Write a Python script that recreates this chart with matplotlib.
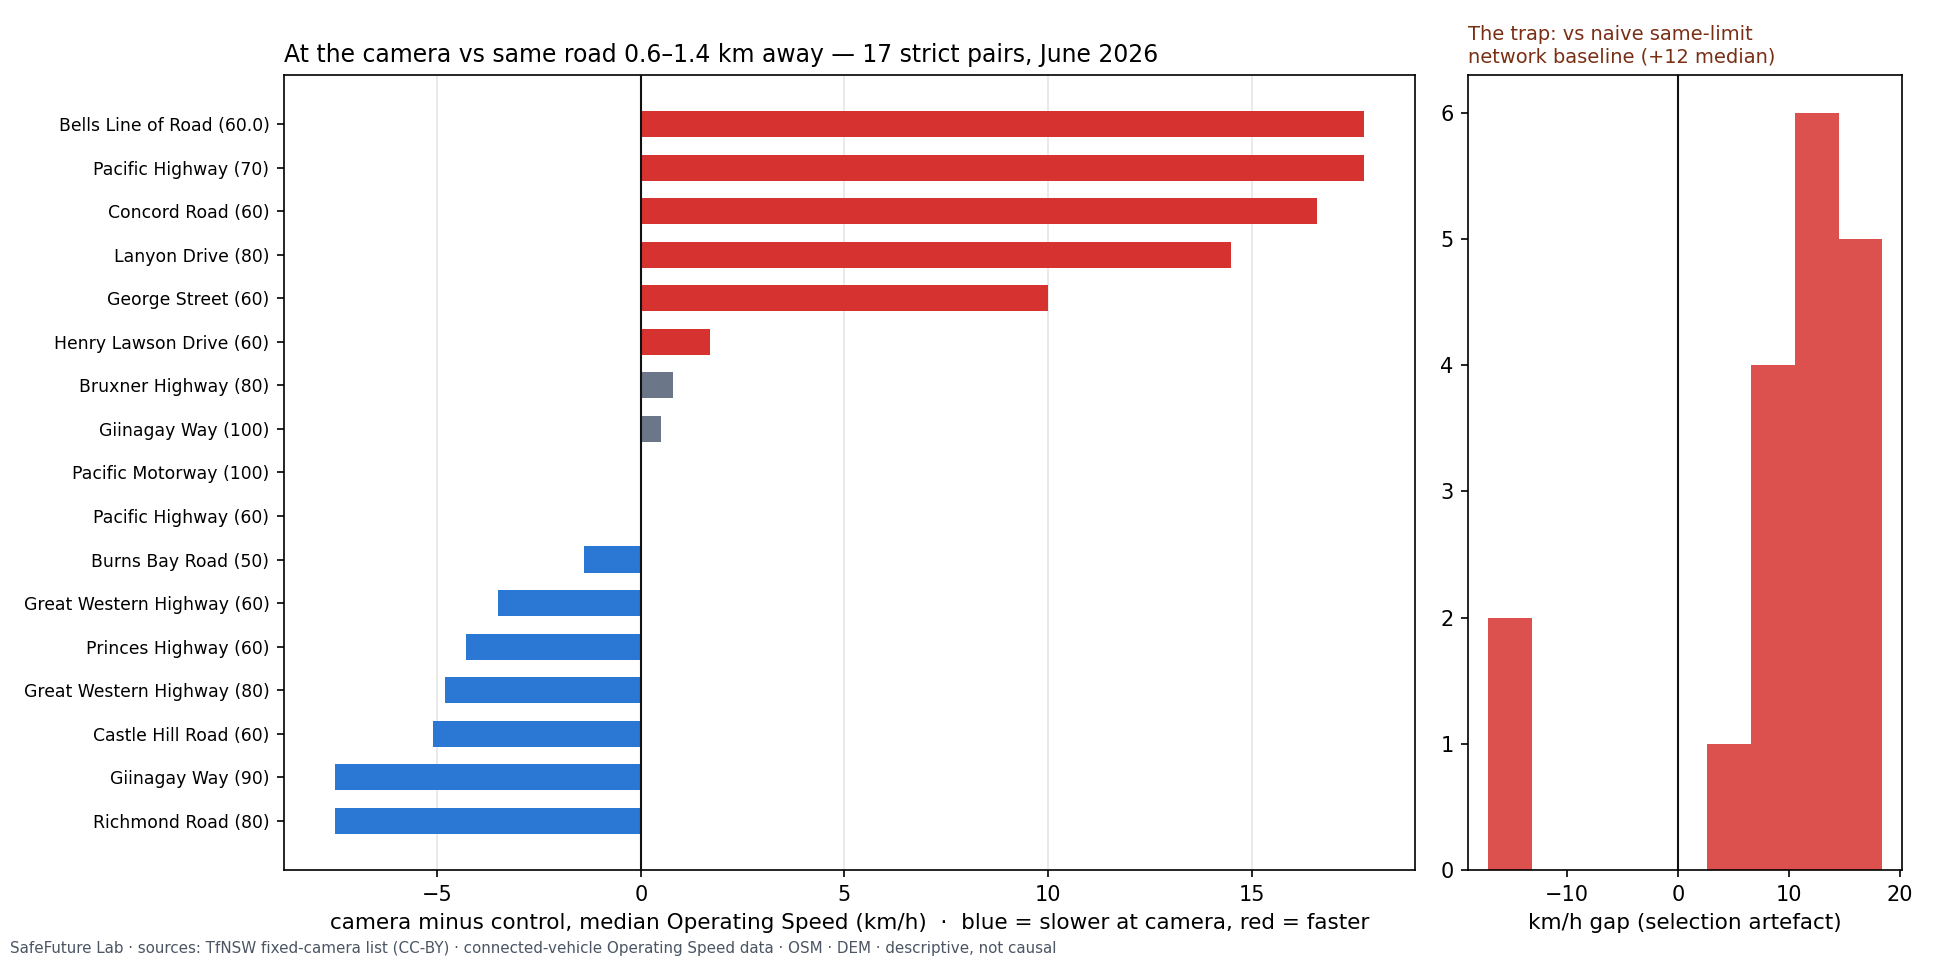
import matplotlib
matplotlib.use("Agg")
import matplotlib.pyplot as plt

# strict camera/control pairs, bottom to top as drawn
roads = ["Richmond Road (80)", "Giinagay Way (90)", "Castle Hill Road (60)",
         "Great Western Highway (80)", "Princes Highway (60)",
         "Great Western Highway (60)", "Burns Bay Road (50)",
         "Pacific Highway (60)", "Pacific Motorway (100)", "Giinagay Way (100)",
         "Bruxner Highway (80)", "Henry Lawson Drive (60)", "George Street (60)",
         "Lanyon Drive (80)", "Concord Road (60)", "Pacific Highway (70)",
         "Bells Line of Road (60.0)"]
diffs = [-7.5, -7.5, -5.1, -4.8, -4.3, -3.5, -1.4, 0.0, 0.0, 0.5, 0.8, 1.7,
         10.0, 14.5, 16.6, 17.75, 17.75]

# gap vs naive same-limit network baseline
naive_gap = [-17.1, -13.8, 4.0, 7.5, 8.6, 9.4, 10.2, 11.0, 11.8, 12.2,
             12.9, 13.5, 14.1, 15.0, 15.8, 16.5, 17.3, 18.4]

RED = "#d6322f"
BLUE = "#2a77d4"
GREY = "#6b7689"


def bar_colour(v):
    if v >= 1.5:
        return RED
    if v <= -1.0:
        return BLUE
    return GREY


fig = plt.figure(figsize=(1937 / 150, 961 / 150), dpi=150)
ax = fig.add_axes([0.1466, 0.0947, 0.5839, 0.8273])
ax2 = fig.add_axes([0.7579, 0.0947, 0.2241, 0.8273])

ax.barh(range(len(roads)), diffs, height=0.6, color=[bar_colour(v) for v in diffs], zorder=2)
ax.set_yticks(range(len(roads)))
ax.set_yticklabels(roads, fontsize=8.25)
ax.axvline(0, color="#111111", lw=1.0, zorder=3)
ax.grid(axis="x", color="#e6e6e6", lw=0.8, zorder=0)
ax.set_axisbelow(True)
ax.tick_params(axis="x", labelsize=10)
ax.set_xlabel("camera minus control, median Operating Speed (km/h)  \u00b7  blue = slower at camera, red = faster",
              fontsize=10.3)
ax.set_title("At the camera vs same road 0.6\u20131.4 km away \u2014 17 strict pairs, June 2026",
             loc="left", fontsize=11.3)

ax2.hist(naive_gap, bins=9, color=RED, alpha=0.85)
ax2.axvline(0, color="#111111", lw=1.0)
ax2.tick_params(labelsize=10)
ax2.set_xlabel("km/h gap (selection artefact)", fontsize=10.3)
ax2.set_title("The trap: vs naive same-limit\nnetwork baseline (+12 median)",
              loc="left", fontsize=9.3, color="#7a2e14")

fig.text(0.005, 0.008, "SafeFuture Lab \u00b7 sources: TfNSW fixed-camera list (CC-BY) \u00b7 connected-vehicle "
         "Operating Speed data \u00b7 OSM \u00b7 DEM \u00b7 descriptive, not causal",
         fontsize=7.25, color="#4b5563")

fig.savefig("out.png", dpi=150)
